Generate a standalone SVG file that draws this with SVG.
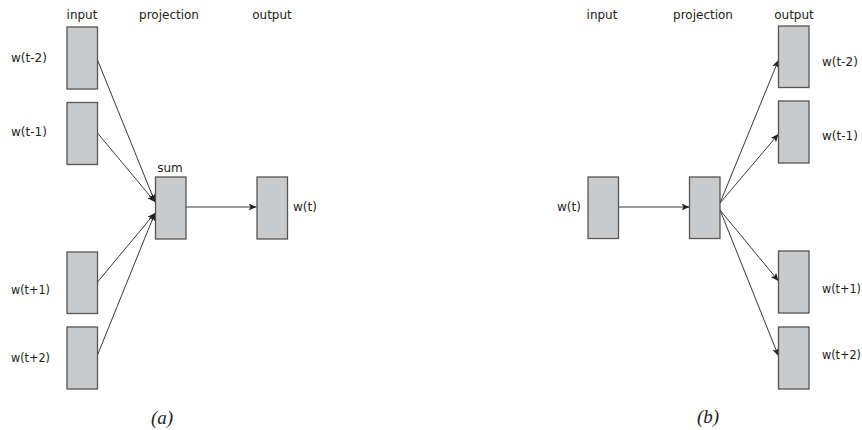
<svg xmlns="http://www.w3.org/2000/svg" width="862" height="430" viewBox="0 0 862 430">
<style>
.box{fill:#c9cacb;stroke:#555;stroke-width:1.3}
.lbl{font-family:"DejaVu Sans",sans-serif;font-size:12px;fill:#222}
.hd{font-family:"DejaVu Sans",sans-serif;font-size:12px;fill:#222;text-anchor:middle}
.cap{font-family:"Liberation Serif",serif;font-style:italic;font-size:19px;fill:#222;text-anchor:middle}
.edge{stroke:#222;stroke-width:0.9;fill:none;marker-end:url(#ah)}
</style>
<defs>
<marker id="ah" markerUnits="userSpaceOnUse" markerWidth="9" markerHeight="7" refX="8" refY="3.5" orient="auto">
<path d="M0,0 L8,3.5 L0,7 L2,3.5 Z" fill="#222"/>
</marker>
</defs>
<g id="headers-a">
<text class="hd" x="82" y="19">input</text>
<text class="hd" x="169" y="19">projection</text>
<text class="hd" x="272" y="19">output</text>
</g>
<g id="headers-b">
<text class="hd" x="602" y="19">input</text>
<text class="hd" x="703" y="19">projection</text>
<text class="hd" x="794" y="19">output</text>
</g>
<g id="connectors">
<line class="edge" x1="97.5" y1="60" x2="155" y2="202"/>
<line class="edge" x1="97.5" y1="133" x2="155" y2="202"/>
<line class="edge" x1="97.5" y1="282" x2="155" y2="213"/>
<line class="edge" x1="97.5" y1="355" x2="155" y2="213"/>
<line class="edge" x1="186" y1="207" x2="256.5" y2="207"/>
<line class="edge" x1="618.5" y1="207" x2="689.5" y2="207"/>
<line class="edge" x1="720" y1="203" x2="778.5" y2="60"/>
<line class="edge" x1="720" y1="203" x2="778.5" y2="134"/>
<line class="edge" x1="720" y1="210" x2="778.5" y2="281"/>
<line class="edge" x1="720" y1="210" x2="778.5" y2="356"/>
</g>
<g id="a-in-t-2"><rect class="box" x="67" y="27" width="30.5" height="62"/><text class="lbl" x="11" y="62">w(t-2)</text></g>
<g id="a-in-t-1"><rect class="box" x="67" y="102.5" width="30.5" height="62"/><text class="lbl" x="11" y="136">w(t-1)</text></g>
<g id="a-in-t+1"><rect class="box" x="67" y="252" width="30.5" height="61.5"/><text class="lbl" x="11" y="294" textLength="39" lengthAdjust="spacingAndGlyphs">w(t+1)</text></g>
<g id="a-in-t+2"><rect class="box" x="67" y="327" width="30.5" height="62"/><text class="lbl" x="11" y="362" textLength="39" lengthAdjust="spacingAndGlyphs">w(t+2)</text></g>
<g id="a-sum"><rect class="box" x="155.5" y="177" width="30.5" height="62"/><text class="hd" x="170" y="172">sum</text></g>
<g id="a-out"><rect class="box" x="257" y="177" width="30.5" height="62"/><text class="lbl" x="293" y="211">w(t)</text></g>
<g id="b-in"><rect class="box" x="588" y="177" width="30.5" height="61.5"/><text class="lbl" x="557" y="211">w(t)</text></g>
<g id="b-proj"><rect class="box" x="689.5" y="177" width="30.5" height="61.5"/></g>
<g id="b-out-t-2"><rect class="box" x="778.5" y="26" width="30.5" height="61.5"/><text class="lbl" x="822" y="66">w(t-2)</text></g>
<g id="b-out-t-1"><rect class="box" x="778.5" y="101" width="30.5" height="62"/><text class="lbl" x="822" y="140">w(t-1)</text></g>
<g id="b-out-t+1"><rect class="box" x="778.5" y="251" width="30.5" height="62"/><text class="lbl" x="822" y="293" textLength="39" lengthAdjust="spacingAndGlyphs">w(t+1)</text></g>
<g id="b-out-t+2"><rect class="box" x="778.5" y="327" width="30.5" height="62"/><text class="lbl" x="822" y="359" textLength="39" lengthAdjust="spacingAndGlyphs">w(t+2)</text></g>
<g id="captions">
<text class="cap" x="162" y="424">(a)</text>
<text class="cap" x="708" y="423">(b)</text>
</g>
</svg>
